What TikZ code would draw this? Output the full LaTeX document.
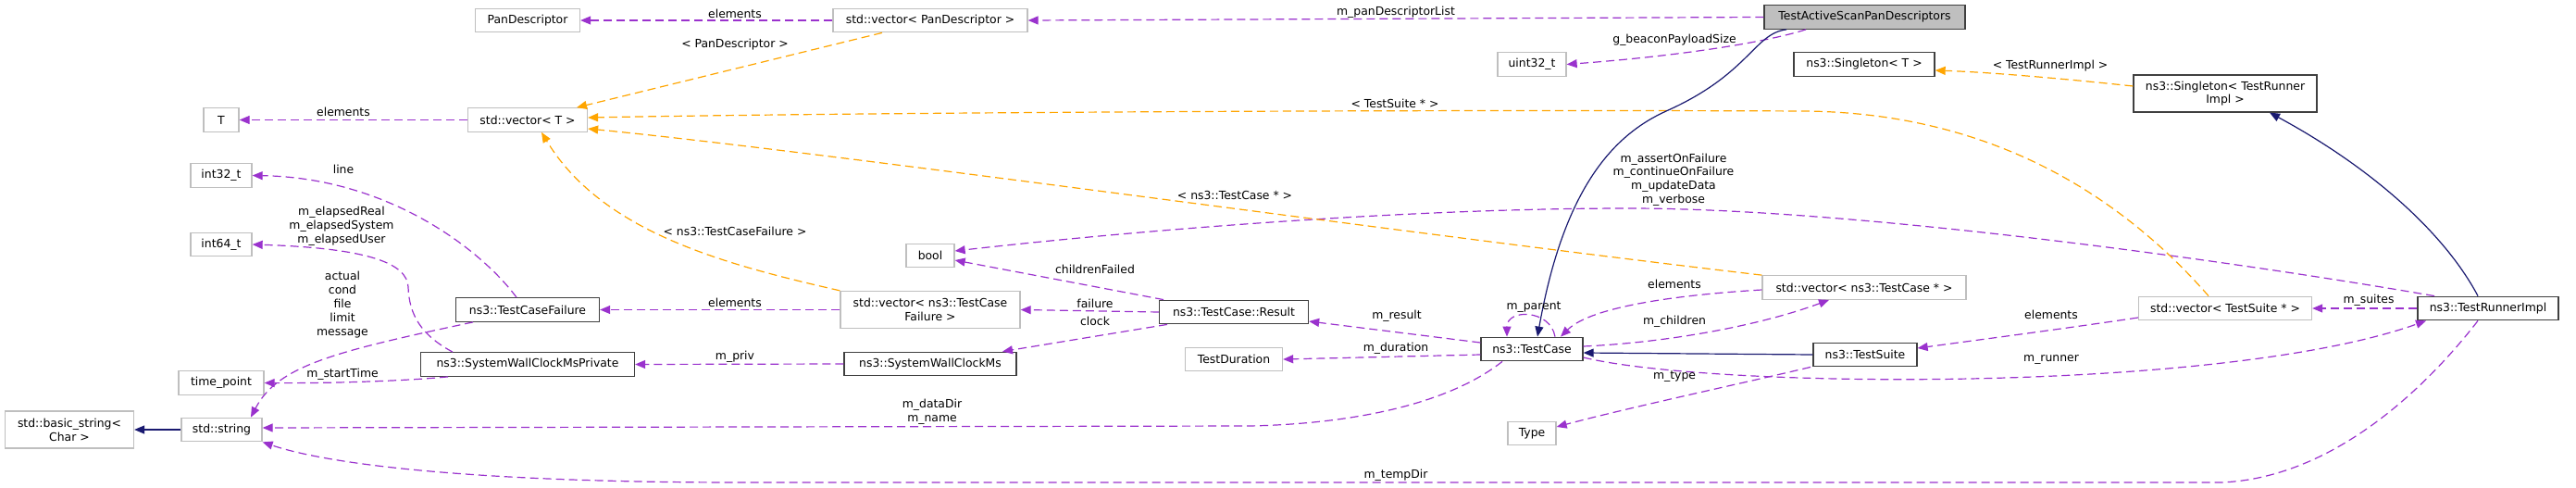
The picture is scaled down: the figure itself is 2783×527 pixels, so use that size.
\documentclass[tikz,border=0pt]{standalone}
\usepackage{fontspec}
\setmainfont{DejaVu Sans}
\usetikzlibrary{arrows.meta}

\definecolor{edgepurple}{HTML}{9A32CD}
\definecolor{edgeorange}{HTML}{FFA500}
\definecolor{edgeblue}{HTML}{191970}
\definecolor{boxgray}{HTML}{BFBFBF}
\definecolor{boxdark}{HTML}{404040}

\begin{document}
\begin{tikzpicture}[x=1pt,y=-1pt,font={\fontsize{12.4}{14.8}\selectfont},
	cls/.style={draw=boxdark,line width=1.3pt,fill=white,inner xsep=4pt,inner ysep=2pt,minimum height=25.5pt,align=center},
	ext/.style={cls,draw=boxgray},
	rootcls/.style={cls,fill=boxgray},
	twoline/.style={minimum height=40pt},
	lbl/.style={inner sep=0pt,align=center},
	uses/.style={draw=edgepurple,line width=1.2pt,dash pattern=on 9pt off 5pt,-{Triangle[length=11pt,width=9pt]}},
	tmpl/.style={draw=edgeorange,line width=1.2pt,dash pattern=on 9pt off 5pt,-{Triangle[length=11pt,width=9pt]}},
	inh/.style={draw=edgeblue,line width=1.2pt,-{Triangle[length=11pt,width=9pt]}}]
	\useasboundingbox (0,0) rectangle (2783,527);

	%classes
	\node[rootcls,minimum width=217pt] (root) at (2014.5,18.5) {TestActiveScanPanDescriptors};
	\node[ext,minimum width=113pt] (pandesc) at (570,22) {PanDescriptor};
	\node[ext,minimum width=210pt] (vecpd) at (1005,22) {std::vector< PanDescriptor >};
	\node[ext,minimum width=74pt] (uint) at (1655,69.5) {uint32\_t};
	\node[cls,minimum width=152pt] (singT) at (2014,69.5) {ns3::Singleton< T >};
	\node[cls,twoline,minimum width=198pt] (singTR) at (2404,101) {ns3::Singleton< TestRunner\\Impl >};
	\node[ext,minimum width=38pt] (tnode) at (239,129.5) {T};
	\node[ext,minimum width=129pt] (vecT) at (570,129.5) {std::vector< T >};
	\node[ext,minimum width=66pt] (int32) at (239,189.5) {int32\_t};
	\node[ext,minimum width=66pt] (int64) at (239,264) {int64\_t};
	\node[ext,minimum width=52pt] (bool) at (1005,276) {bool};
	\node[ext,minimum width=220pt] (vectc) at (2014,310.5) {std::vector< ns3::TestCase * >};
	\node[cls,minimum width=155pt] (tcf) at (570,334.5) {ns3::TestCaseFailure};
	\node[ext,twoline,minimum width=194pt] (vectcf) at (1005,334.5) {std::vector< ns3::TestCase\\Failure >};
	\node[cls,minimum width=161pt] (result) at (1333,337) {ns3::TestCase::Result};
	\node[ext,minimum width=187pt] (vects) at (2404,333) {std::vector< TestSuite * >};
	\node[cls,minimum width=152pt] (runner) at (2688,333) {ns3::TestRunnerImpl};
	\node[cls,minimum width=231pt] (swcmp) at (570,393.5) {ns3::SystemWallClockMsPrivate};
	\node[cls,minimum width=186pt] (swcm) at (1005,393) {ns3::SystemWallClockMs};
	\node[cls,minimum width=110pt] (testcase) at (1655,377) {ns3::TestCase};
	\node[cls,minimum width=112pt] (suite) at (2015,383) {ns3::TestSuite};
	\node[ext,minimum width=105pt] (dur) at (1333,388) {TestDuration};
	\node[ext,minimum width=92pt] (timept) at (239,413.5) {time\_point};
	\node[ext,twoline,minimum width=139pt] (basicstr) at (75,464) {std::basic\_string<\\Char >};
	\node[ext,minimum width=87pt] (str) at (239.5,464) {std::string};
	\node[ext,minimum width=52pt] (typenode) at (1655,468) {Type};

	%usage
	\draw[uses] (root.west) -- (vecpd.east);
	\draw[uses] (vecpd.west) -- (pandesc.east);
	\draw[uses] (1951,0 |- root.south) .. controls (1910,45) and (1820,60) .. (uint.east);
	\draw[uses] (vecT.west) -- (tnode.east);
	\draw[uses] (558,0 |- tcf.north) .. controls (520,270) and (420,192) .. (int32.east);
	\draw[uses] (489,0 |- swcmp.north) .. controls (455,362) and (442,340) .. (441,310) .. controls (440,285) and (400,268) .. (int64.east);
	\draw[uses] (511,0 |- tcf.south) .. controls (360,380) and (300,395) .. (271,0 |- str.north);
	\draw[uses] (484,0 |- swcmp.south) .. controls (430,412) and (350,414) .. (timept.east);
	\draw[uses] (vectcf.west) -- (tcf.east);
	\draw[uses] (swcm.west) -- (swcmp.east);
	\draw[uses] (1257,0 |- result.north) -- (bool.east |- 0,281);
	\draw[uses] (result.west) -- (vectcf.east);
	\draw[uses] (1261,0 |- result.south) -- (1083,0 |- swcm.north);
	\draw[uses] (testcase.west |- 0,370) -- (result.east |- 0,347);
	\draw[uses] (testcase.west |- 0,383) -- (dur.east);
	\draw[uses] (1623,0 |- testcase.south) .. controls (1560,440) and (1450,458) .. (1350,460) -- (str.east |- 0,462);
	\draw[uses] (1680,0 |- testcase.north) .. controls (1675,334) and (1628,333) .. (1628,0 |- testcase.north);
	\draw[uses] (vectc.west |- 0,313) .. controls (1820,318) and (1720,330) .. (1686,0 |- testcase.north);
	\draw[uses] (testcase.east |- 0,374) .. controls (1800,370) and (1900,352) .. (1976,0 |- vectc.south);
	\draw[uses] (1956,0 |- suite.south) .. controls (1900,410) and (1760,440) .. (typenode.east |- 0,461);
	\draw[uses] (testcase.east |- 0,386) .. controls (1850,420) and (2400,425) .. (2621,0 |- runner.south);
	\draw[uses] (vects.west |- 0,343) .. controls (2230,355) and (2130,368) .. (suite.east |- 0,376);
	\draw[uses] (runner.west) -- (vects.east);
	\draw[uses] (2630,0 |- runner.north) .. controls (2400,280) and (2000,225) .. (1760,225) .. controls (1500,225) and (1200,252) .. (bool.east |- 0,271);
	\draw[uses] (2677,0 |- runner.south) .. controls (2620,420) and (2520,516) .. (2400,521) -- (800,521) .. controls (500,521) and (350,500) .. (str.south east);

	%templates
	\draw[tmpl] (953,0 |- vecpd.south) -- (623,0 |- vecT.north);
	\draw[tmpl] (vectc.north west) .. controls (1500,250) and (900,165) .. (vecT.east |- 0,139);
	\draw[tmpl] (2386,0 |- vects.north) .. controls (2290,210) and (2150,122) .. (1950,120) .. controls (1500,118) and (900,122) .. (vecT.east |- 0,127);
	\draw[tmpl] (vectcf.north west) .. controls (780,285) and (650,250) .. (585,0 |- vecT.south);
	\draw[tmpl] (singTR.west |- 0,93) .. controls (2230,85) and (2150,78) .. (singT.east |- 0,76);

	%inheritance
	\draw[inh] (1930,0 |- root.south) .. controls (1895,36) and (1890,80) .. (1800,120) .. controls (1745,145) and (1690,200) .. (1661,0 |- testcase.north);
	\draw[inh] (suite.west) -- (testcase.east |- 0,381);
	\draw[inh] (2677,0 |- runner.north) .. controls (2640,250) and (2560,180) .. (2452,0 |- singTR.south);
	\draw[inh] (str.west) -- (basicstr.east);

	%labels
	\node[lbl] (lpanlist) at (1508,13) {m\_panDescriptorList};
	\node[lbl] (lpdelem) at (794,15) {elements};
	\node[lbl] (lbeacon) at (1809,43) {g\_beaconPayloadSize};
	\node[lbl] (ltelem) at (371,121) {elements};
	\node[lbl] (lpdtmpl) at (794,48) {< PanDescriptor >};
	\node[lbl] (lrunnertmpl) at (2215,71) {< TestRunnerImpl >};
	\node[lbl] (lsuitetmpl) at (1507,112) {< TestSuite * >};
	\node[lbl] (lline) at (371,183) {line};
	\node[lbl] (lelapsed) at (369,244) {m\_elapsedReal\\m\_elapsedSystem\\m\_elapsedUser};
	\node[lbl] (lflags) at (1808,194) {m\_assertOnFailure\\m\_continueOnFailure\\m\_updateData\\m\_verbose};
	\node[lbl] (lcasetmpl) at (1334,211) {< ns3::TestCase * >};
	\node[lbl] (lfailtmpl) at (794,250) {< ns3::TestCaseFailure >};
	\node[lbl] (lchildfail) at (1183,291) {childrenFailed};
	\node[lbl] (lfailinfo) at (370,329) {actual\\cond\\file\\limit\\message};
	\node[lbl] (ltcfelem) at (794,327) {elements};
	\node[lbl] (lfailure) at (1183,328) {failure};
	\node[lbl] (lcaseelem) at (1809,307) {elements};
	\node[lbl] (lparent) at (1657,332) {m\_parent};
	\node[lbl] (lresult) at (1509,341) {m\_result};
	\node[lbl] (lclock) at (1183,347) {clock};
	\node[lbl] (lchildren) at (1809,347) {m\_children};
	\node[lbl] (lsuiteelem) at (2216,340) {elements};
	\node[lbl] (lsuites) at (2559,324) {m\_suites};
	\node[lbl] (lduration) at (1508,376) {m\_duration};
	\node[lbl] (lpriv) at (794,385) {m\_priv};
	\node[lbl] (lrunner) at (2216,388) {m\_runner};
	\node[lbl] (lstart) at (370,404) {m\_startTime};
	\node[lbl] (ltype) at (1809,407) {m\_type};
	\node[lbl] (ldirs) at (1007,444.5) {m\_dataDir\\m\_name};
	\node[lbl] (ltemp) at (1508,513) {m\_tempDir};
\end{tikzpicture}
\end{document}
